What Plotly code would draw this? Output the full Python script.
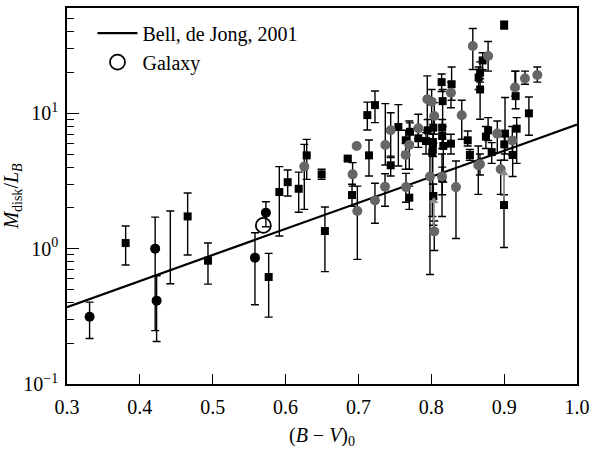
import numpy as np
import plotly.graph_objects as go

# ---- Data ----
# Black filled circles: x, y, upper bound, lower bound
bc_x = [0.331, 0.421, 0.423, 0.558, 0.573]
bc_y = [0.314, 1.00, 0.413, 0.858, 1.845]
bc_hi = [0.403, 1.71, 0.63, 1.31, 2.22]
bc_lo = [0.217, 0.248, 0.206, 0.385, 1.45]

# Black squares
sq_x = [0.3805, 0.4656, 0.4935, 0.5768, 0.5914, 0.6029, 0.618, 0.629, 0.6495, 0.654,
        0.6853, 0.6912, 0.7122, 0.7227, 0.7145, 0.7443, 0.7548, 0.765, 0.7698, 0.7707,
        0.7822, 0.7927, 0.795, 0.8028, 0.8023, 0.802, 0.8014, 0.8028, 0.8142, 0.8156,
        0.815, 0.815, 0.8165, 0.8279, 0.827, 0.85, 0.853, 0.867, 0.8705, 0.865,
        0.867, 0.875, 0.878, 0.8829, 0.900, 0.9012, 0.9002, 0.8998, 0.9158, 0.9172,
        0.9117, 0.934, 0.815]
sq_y = [1.10, 1.73, 0.815, 0.617, 2.62, 3.10, 2.77, 4.89, 3.54, 1.35,
        4.63, 2.49, 9.7, 11.5, 4.89, 4.13, 7.92, 6.32, 2.38, 7.3,
        6.54, 6.24, 7.49, 7.84, 6.07, 5.4, 5.12, 2.45, 17.0, 12.3,
        7.84, 6.8, 5.74, 16.4, 5.97, 6.32, 4.92, 20.0, 24.6, 18.4,
        15.0, 6.73, 7.49, 5.17, 45.0, 7.08, 5.9, 2.1, 13.4, 7.7,
        4.92, 10.0, 3.3]
sq_hi = [1.47, 2.58, 1.10, 0.923, 4.04, 3.81, 3.68, 6.42, 3.86, 2.03,
         4.75, 2.99, 12.1, 14.6, 6.35, 4.83, 11.6, 7.5, 2.90, 8.5,
         7.6, 7.2, 9.0, 9.5, 7.0, 6.5, 6.0, 3.0, 19.5, 15.0,
         9.0, 8.0, 7.0, 22.0, 7.0, 7.4, 5.4, 24.0, 28.0, 22.0,
         18.0, 8.0, 9.3, 6.07, 48.0, 13.1, 6.8, 2.5, 20.5, 9.3,
         6.2, 13.2, 4.0]
sq_lo = [0.757, 0.897, 0.547, 0.312, 1.24, 2.45, 1.86, 3.25, 3.25, 0.676,
         4.5, 2.06, 7.53, 8.53, 3.44, 3.44, 4.08, 5.2, 1.95, 6.0,
         5.6, 5.0, 6.0, 6.0, 4.8, 3.0, 1.73, 1.49, 14.5, 8.0,
         6.5, 5.5, 3.1, 12.5, 5.0, 5.74, 4.5, 17.0, 21.0, 15.0,
         9.03, 5.5, 6.3, 4.27, 42.0, 5.0, 4.5, 1.02, 10.8, 4.27,
         3.41, 6.88, 2.5]

# Grey filled circles
gc_x = [0.6257, 0.692, 0.6976, 0.6985, 0.7227, 0.7365, 0.7369, 0.7443, 0.7698, 0.7649,
        0.7653, 0.7822, 0.7945, 0.8005, 0.8041, 0.7982, 0.8147, 0.8041, 0.8339, 0.8418,
        0.827, 0.8645, 0.857, 0.878, 0.8906, 0.8953, 0.9112, 0.9149, 0.9286, 0.9455,
        0.8668]
gc_y = [4.04, 3.54, 5.73, 1.90, 2.27, 2.87, 5.83, 7.49, 5.83, 4.92,
        2.85, 7.75, 12.7, 12.2, 9.55, 3.41, 3.41, 1.34, 2.85, 9.67,
        14.2, 4.13, 31.4, 26.5, 7.08, 3.86, 6.31, 15.5, 18.1, 19.2,
        4.2]
gc_hi = [5.9, 4.32, 5.8, 2.90, 3.04, 3.58, 11.8, 10.1, 8.77, 6.0,
         3.6, 9.84, 18.9, 15.0, 12.0, 6.0, 5.0, 1.6, 4.44, 12.5,
         17.0, 5.74, 42.3, 33.9, 8.77, 4.5, 8.0, 20.5, 20.5, 22.0,
         5.0]
gc_lo = [1.95, 2.90, 5.65, 0.834, 1.54, 2.06, 4.15, 4.71, 3.86, 3.86,
         2.2, 6.5, 7.5, 7.8, 7.0, 0.645, 1.73, 0.97, 1.19, 6.43,
         11.0, 2.52, 21.1, 20.5, 5.12, 2.52, 4.9, 13.4, 16.4, 17.0,
         3.5]

# Error bar with hidden marker
eb_x = [0.4418]
eb_y = [1.0]
eb_hi = [1.90]
eb_lo = [0.55]

# Galaxy (open circle)
gal_x = [0.5695]
gal_y = [1.486]

# Bell & de Jong (2001) relation (end points)
line_x = [0.3, 1.0]
line_y = [0.37, 8.25]

# Grey upward arrows: x, from, to
arr_x = [0.8035, 0.8998]
arr_from = [1.45, 2.3]
arr_to = [2.25, 3.6]

x_ticks = [0.3, 0.4, 0.5, 0.6, 0.7, 0.8, 0.9, 1.0]
x_ticktext = ["0.3", "0.4", "0.5", "0.6", "0.7", "0.8", "0.9", "1.0"]
y_ticks = [0.1, 1, 10]
y_ticktext = ["10<sup>−1</sup>", "10<sup>0</sup>", "10<sup>1</sup>"]

FONT = "Liberation Serif"
FS = 20
GREY = "#666666"


def errs(y, hi, lo):
    y = np.array(y); hi = np.array(hi); lo = np.array(lo)
    return dict(type="data", symmetric=False, array=hi - y, arrayminus=y - lo,
                color="black", thickness=1.4, width=4)


fig = go.Figure()

fig.add_trace(go.Scatter(x=line_x, y=line_y, mode="lines",
                         line=dict(color="black", width=2.2),
                         name="Bell, de Jong, 2001"))
fig.add_trace(go.Scatter(x=gal_x, y=gal_y, mode="markers",
                         marker=dict(symbol="circle-open", size=15,
                                     line=dict(color="black", width=1.8), color="black"),
                         name="Galaxy"))

fig.add_trace(go.Scatter(x=eb_x, y=eb_y, mode="markers", showlegend=False,
                         marker=dict(size=0.1, color="rgba(0,0,0,0)"),
                         error_y=errs(eb_y, eb_hi, eb_lo)))
fig.add_trace(go.Scatter(x=sq_x, y=sq_y, mode="markers", showlegend=False,
                         marker=dict(symbol="square", size=8, color="black"),
                         error_y=errs(sq_y, sq_hi, sq_lo)))
fig.add_trace(go.Scatter(x=gc_x, y=gc_y, mode="markers", showlegend=False,
                         marker=dict(symbol="circle", size=10, color=GREY),
                         error_y=errs(gc_y, gc_hi, gc_lo)))
fig.add_trace(go.Scatter(x=bc_x, y=bc_y, mode="markers", showlegend=False,
                         marker=dict(symbol="circle", size=10, color="black"),
                         error_y=errs(bc_y, bc_hi, bc_lo)))

# grey upward arrows (shaft + head)
for xa, y0, y1 in zip(arr_x, arr_from, arr_to):
    fig.add_trace(go.Scatter(x=[xa, xa], y=[y0, y1], mode="lines", showlegend=False,
                             line=dict(color="#8a8a8a", width=1.8), hoverinfo="skip"))
fig.add_trace(go.Scatter(x=arr_x, y=arr_to, mode="markers", showlegend=False,
                         marker=dict(symbol="triangle-up", size=8, color="#8a8a8a"),
                         hoverinfo="skip"))

minor_vals = [m * 10.0 ** e for e in (-1, 0, 1) for m in range(2, 10)]

fig.update_layout(
    width=595, height=449,
    margin=dict(l=67, r=18, t=8, b=65),
    paper_bgcolor="white", plot_bgcolor="white",
    font=dict(family=FONT, size=FS, color="black"),
    showlegend=True,
    legend=dict(x=0.05, y=0.985, xanchor="left", yanchor="top",
                bgcolor="rgba(0,0,0,0)", font=dict(family=FONT, size=FS),
                tracegroupgap=0, itemwidth=40),
    xaxis=dict(range=[0.3, 1.0], tickvals=x_ticks, ticktext=x_ticktext,
               ticks="inside", ticklen=10, tickwidth=1.4, tickcolor="black",
               showline=True, linecolor="black", linewidth=1.6, mirror=True,
               showgrid=False, zeroline=False, automargin=False,
               ticklabelstandoff=4,
               tickfont=dict(family=FONT, size=FS),
               title=dict(text="(<i>B</i> − <i>V</i>)<sub>0</sub>",
                          font=dict(family=FONT, size=FS), standoff=13)),
    yaxis=dict(type="log", range=[-1, np.log10(60)],
               tickvals=y_ticks, ticktext=y_ticktext,
               ticks="inside", ticklen=12, tickwidth=1.4, tickcolor="black",
               minor=dict(tickvals=minor_vals, ticks="inside", ticklen=7,
                          tickwidth=1.2, tickcolor="black", showgrid=False),
               showline=True, linecolor="black", linewidth=1.6, mirror=True,
               showgrid=False, zeroline=False, automargin=False,
               ticklabelstandoff=3,
               tickfont=dict(family=FONT, size=FS),
               title=dict(text="<i>M</i><sub>disk</sub>/<i>L<sub>B</sub></i>",
                          font=dict(family=FONT, size=FS), standoff=0)),
)

# remove the page's default body margin so the figure sits at the window origin
fig.write_html("out.html",
               config={"displayModeBar": False},
               post_script="document.body.style.margin='0';"
                           "document.body.style.overflow='hidden';")
